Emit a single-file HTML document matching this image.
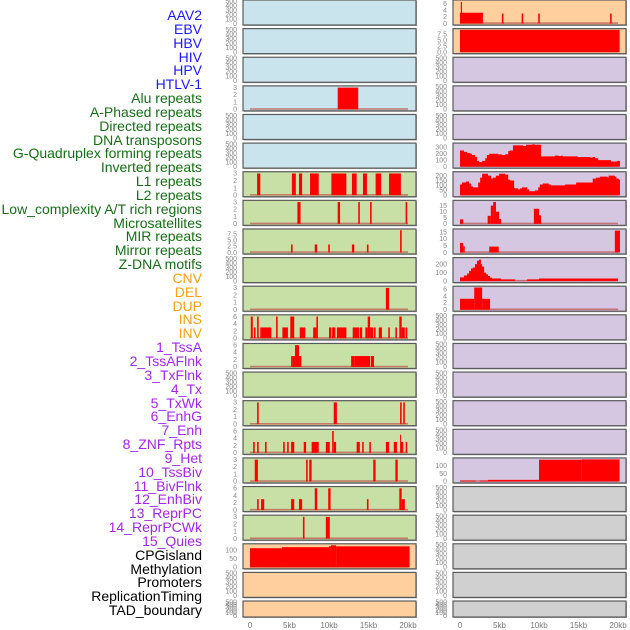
<!DOCTYPE html>
<html><head><meta charset="utf-8">
<style>
body{margin:0;background:#fff;width:630px;height:630px;overflow:hidden;font-family:"Liberation Sans",sans-serif}
.lab{position:absolute;right:428px;font-size:14px;line-height:14px;white-space:nowrap}
</style></head>
<body>
<div id="labels"></div>
<svg id="chart" width="630" height="630" style="position:absolute;left:0;top:0"></svg>
<script>
// ---- labels ----
const labelNames = ["AAV2","EBV","HBV","HIV","HPV","HTLV-1","Alu repeats","A-Phased repeats","Directed repeats","DNA transposons","G-Quadruplex forming repeats","Inverted repeats","L1 repeats","L2 repeats","Low_complexity A/T rich regions","Microsatellites","MIR repeats","Mirror repeats","Z-DNA motifs","CNV","DEL","DUP","INS","INV","1_TssA","2_TssAFlnk","3_TxFlnk","4_Tx","5_TxWk","6_EnhG","7_Enh","8_ZNF_Rpts","9_Het","10_TssBiv","11_BivFlnk","12_EnhBiv","13_ReprPC","14_ReprPCWk","15_Quies","CPGisland","Methylation","Promoters","ReplicationTiming","TAD_boundary"];
const labelGroups = ["v","v","v","v","v","v","r","r","r","r","r","r","r","r","r","r","r","r","r","c","c","c","c","c","s","s","s","s","s","s","s","s","s","s","s","s","s","s","s","o","o","o","o","o"];
const groupColors = {v:"#1a1aff",r:"#157015",c:"#ffa010",s:"#a526f0",o:"#000"};

// ---- data (kb intervals [start,end,value]) ----
const aluLeft = [[11.1,13.7,3]];
const l1Left = [[0.9,1.3,3],[5.3,5.8,3],[6.2,6.6,3],[7.6,8.7,3],[10.3,12.2,3],[12.9,13.5,3],[14.3,14.8,3],[15.9,16.6,3],[17.6,19.1,3]];
const l2Left = [[6.0,6.4,3],[11.1,11.4,3],[13.7,13.9,3],[15.2,15.4,3],[19.7,19.9,3]];
const lowCompLeft = [[5.2,5.4,3.3],[8.2,8.5,3.3],[9.9,10.1,3.3],[12.9,13.2,3.3],[14.8,15.0,3.3],[19.0,19.2,9.2]];
const mirrorLeft = [[17.2,17.6,3]];
const insLeft = [[0.1,0.35,6],[0.5,0.7,3],[0.9,1.1,6],[1.3,2.7,3],[3.3,3.5,6],[4.1,4.8,3],[5.1,5.6,6],[6.3,7.0,3],[8.0,8.4,3],[8.4,8.6,6],[10.0,10.3,3],[10.4,10.8,3],[11.0,12.2,3],[13.0,13.8,3],[13.9,14.2,3],[14.6,14.9,3],[14.9,15.2,6],[15.2,15.6,3],[15.7,15.9,3],[16.3,16.7,3],[17.5,17.7,3],[18.4,18.6,3],[18.9,19.2,6],[19.2,19.6,3],[19.7,19.9,3]];
const tssALeft = [[5.2,5.4,3],[5.4,5.7,3],[5.7,6.2,6],[6.2,6.5,3],[12.8,13.2,3],[13.2,15.2,3],[15.3,15.7,3]];
const txWkLeft = [[0.9,1.1,3],[10.6,11.0,3],[19.0,19.2,3],[19.4,19.6,3]];
const enhLeft = [[0.4,0.6,3],[0.9,1.1,3],[1.9,2.1,3],[4.2,4.4,3],[4.7,4.9,3],[5.2,5.6,3],[6.8,7.1,3],[7.8,8.7,3],[9.6,10.1,3],[10.4,10.6,6],[10.6,10.9,3],[13.5,13.9,3],[14.2,14.4,3],[15.1,15.3,3],[17.2,17.6,3],[18.2,18.6,3],[19.0,19.1,5],[19.1,19.4,3],[19.7,19.9,3]];
const tssBivLeft = [[0.6,1.0,3],[7.1,7.3,3],[7.5,7.8,3],[15.6,15.9,3],[18.4,18.7,3]];
const enhBivLeft = [[0.9,1.1,3],[1.4,1.8,3],[5.2,5.6,3],[6.2,6.6,3],[8.2,8.5,6],[9.9,10.2,6],[14.8,15.0,3],[18.9,19.2,6],[19.2,19.6,3]];
const reprPCWkLeft = [[6.7,6.9,3],[9.6,10.1,3]];
const cpgLeft = [[0,4.05,111],[4.05,10.0,117],[10.0,10.25,122],[10.25,10.9,128],[10.9,20.2,122]];
const aav2Right = [[0,2.9,3.25],[0.1,0.25,6.5],[5.3,5.5,3],[7.8,8.0,3],[9.9,10.1,3],[19.0,19.2,3]];
const ebvRight = [[0,20.2,9.3]];
const lowCompRight = [[0,0.4,3.7],[3.5,3.9,6.6],[3.9,4.2,15],[4.2,4.55,18],[4.55,4.95,10],[4.95,5.2,4],[9.35,10.0,12.4],[10.0,10.25,7]];
const mirRight = [[0,0.4,7],[0.4,0.6,4.5],[3.7,4.9,4.3],[19.6,20.25,16]];
const dupRight = [[0,1.8,3.2],[1.8,2.8,6.5],[2.8,3.8,3.2]];
const tssBivRight = [[0,2.0,5],[2.5,3.55,5],[3.55,10.0,10],[10.0,15.4,140],[15.4,20.2,142]];
// step profiles: edges (kb) + values
const gquadEdges = [0,0.5,0.9,1.3,1.5,1.9,2.15,2.4,2.8,3.2,3.4,3.7,4.8,5.3,5.7,6.1,6.3,6.7,8.0,8.35,9.1,9.5,10.25,10.6,12.0,12.5,12.8,13.0,14.9,16.5,16.8,17.1,17.5,19.1,19.9,20.25];
const gquadVals = [250,230,210,200,180,150,90,70,90,130,180,200,190,180,190,240,250,330,320,340,345,340,160,160,170,165,170,160,150,140,150,130,100,80,90];
const l1Edges = [0,0.25,0.75,1.15,1.4,1.65,2.3,2.55,2.8,3.55,3.95,4.2,4.55,4.95,5.7,6.1,6.35,6.85,6.96,7.35,7.6,7.85,8.5,8.75,9.0,9.5,9.9,10.1,10.5,11.25,11.5,13.3,14.7,16.8,17.2,17.7,18.7,18.8,19.6,19.8,20.1,20.25];
const l1Vals = [110,130,140,120,90,80,130,180,220,200,170,180,200,220,210,160,150,75,70,60,70,80,60,40,40,50,80,110,120,110,100,110,130,170,180,190,180,200,190,170,160];
const zdnaEdges = [0,0.5,0.9,1.15,1.4,1.65,1.9,2.15,2.4,2.65,2.8,3.05,3.3,3.55,3.8,4.05,5.2,6.95,8.5,10.0,20.0];
const zdnaVals = [44,65,90,120,150,160,200,240,252,200,170,100,80,60,40,30,20,3,20,30,3];

const emptyTicks = [0,100,200,300,400,500];
const t3 = [0,1,2,3], t6 = [0,2,4,6], t75 = [0,2.5,5,7.5];
// panels: [bg, ymax, ticks, intervals, stepEdges, stepVals, tickDecimals]
const BL="#c9e4ec", GR="#c8e0a5", PE="#ffcf9e", LV="#d5c6e2", GY="#d0d0d0";
const leftPanels = [
 [BL,500,emptyTicks,null],[BL,500,emptyTicks,null],[BL,500,emptyTicks,null],
 [BL,3.1,t3,aluLeft],[BL,500,emptyTicks,null],[BL,500,emptyTicks,null],
 [GR,3.1,t3,l1Left],[GR,3.1,t3,l2Left],[GR,9.3,t75,lowCompLeft,null,null,1],[GR,500,emptyTicks,null],
 [GR,3.1,t3,mirrorLeft],[GR,6.2,t6,insLeft],[GR,6.2,t6,tssALeft],[GR,500,emptyTicks,null],
 [GR,3.1,t3,txWkLeft],[GR,6.2,t6,enhLeft],[GR,3.1,t3,tssBivLeft],[GR,6.2,t6,enhBivLeft],[GR,3.1,t3,reprPCWkLeft],
 [PE,131,[0,50,100],cpgLeft],[PE,500,emptyTicks,null],[PE,500,emptyTicks,null]
];
const rightPanels = [
 [PE,6.8,t6,aav2Right],[PE,9.4,t75,ebvRight,null,null,1],
 [LV,500,emptyTicks,null],[LV,500,emptyTicks,null],[LV,500,emptyTicks,null],
 [LV,350,[0,100,200,300],null,gquadEdges,gquadVals],
 [LV,230,[0,50,100,150,200],null,l1Edges,l1Vals],
 [LV,18.5,[0,5,10,15],lowCompRight],[LV,16.5,[0,5,10,15],mirRight],
 [LV,265,[0,100,200],null,zdnaEdges,zdnaVals],[LV,6.6,t6,dupRight],
 [LV,500,emptyTicks,null],[LV,500,emptyTicks,null],[LV,500,emptyTicks,null],[LV,500,emptyTicks,null],[LV,500,emptyTicks,null],
 [LV,145,[0,50,100],tssBivRight],
 [GY,500,emptyTicks,null],[GY,500,emptyTicks,null],[GY,500,emptyTicks,null],[GY,500,emptyTicks,null],[GY,500,emptyTicks,null]
];
const xTicks = [0,5,10,15,20];
const xTickLabels = ["0","5kb","10kb","15kb","20kb"];

// ---- render ----
const NS="http://www.w3.org/2000/svg";
const svg=document.getElementById('chart');
function mk(tag,attrs,parent){const e=document.createElementNS(NS,tag);for(const k in attrs)e.setAttribute(k,attrs[k]);(parent||svg).appendChild(e);return e;}

const labDiv=document.getElementById('labels');
labelNames.forEach((n,i)=>{
  const d=document.createElement('div');
  d.className='lab';
  
  
  d.style.top=(8+i*13.84)+'px';
  d.style.color=groupColors[labelGroups[i]];
  d.textContent=n;
  labDiv.appendChild(d);
});

function drawColumn(panels,px0,side){
  const pw=173, x0=px0+7, x20=px0+165;
  const xs=kb=>x0+(x20-x0)*kb/20;
  panels.forEach((p,i)=>{
    const top=i*28.62, h=(i===panels.length-1)?16:25;
    const g=mk('g',{});
    
    
    mk('rect',{x:px0+1,y:top+1,width:pw,height:h,fill:'#aaa'},g);
    mk('rect',{x:px0,y:top,width:pw,height:h,fill:p[0],stroke:'#5a5a5a','stroke-width':1.2},g);
    const yb=top+h-1.5, yt=top+1;
    const ys=v=>yb-(yb-yt)*v/p[1];
    p[2].forEach(t=>{
      const tx=mk('text',{x:px0-6,y:ys(t)+2.3,'text-anchor':'end','font-size':7,fill:'#8a8a8a'},g);
      
      
      tx.textContent=p[6]?t.toFixed(1):String(t);
    });
    if(p[3]||p[4]){
      mk('rect',{x:xs(0),y:yb-1.2,width:xs(20)-xs(0),height:1.6,fill:'#c0504d',opacity:0.7},g);
    }
    if(p[3]){
      p[3].forEach(d=>{
        const r=mk('rect',{x:xs(d[0]),y:ys(d[2]),width:Math.max(1,xs(d[1])-xs(d[0])),height:yb-ys(d[2]),fill:'#ff0000'},g);
        
        
      });
    }
    if(p[4]){
      const e=p[4],v=p[5];
      let dstr='M'+xs(e[0])+','+yb;
      for(let k=0;k<v.length;k++){dstr+=' L'+xs(e[k])+','+ys(v[k])+' L'+xs(e[k+1])+','+ys(v[k]);}
      dstr+=' L'+xs(e[e.length-1])+','+yb+' Z';
      const pa=mk('path',{d:dstr,fill:'#ff0000'},g);
      
      
    }
  });
  xTicks.forEach((t,k)=>{
    const tx=mk('text',{x:xs(t),y:628,'text-anchor':'middle','font-size':8,fill:'#777'});
    
    
    tx.textContent=xTickLabels[k];
  });
}
drawColumn(leftPanels,243,'left');
drawColumn(rightPanels,453,'right');
</script>
</body></html>
